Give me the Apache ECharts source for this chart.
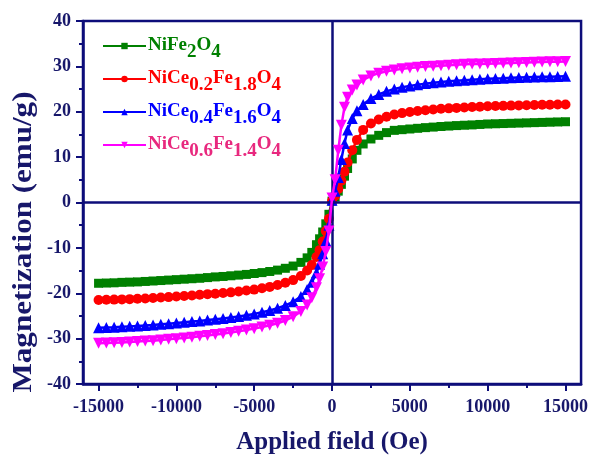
<!DOCTYPE html>
<html><head><meta charset="utf-8">
<script src="https://cdn.jsdelivr.net/npm/echarts@6/dist/echarts.min.js"></script>
<style>html,body{margin:0;padding:0;background:#fff}#c{width:591px;height:460px}</style>
</head><body><div id="c"></div>
<script>
// Applied field (Oe)
const field = [
  -15000,-14500,-14000,-13500,-13000,-12500,-12000,-11500,-11000,-10500,
  -10000,-9500,-9000,-8500,-8000,-7500,-7000,-6500,-6000,-5500,
  -5000,-4500,-4000,-3500,-3000,-2500,
  -2000,-1600,-1300,-1000,-800,-600,-400,-200,0,200,400,600,800,1000,1300,1600,2000,
  2500,3000,3500,4000,4500,5000,5500,6000,6500,7000,7500,8000,8500,9000,9500,10000,
  10500,11000,11500,12000,12500,13000,13500,14000,14500,15000
];
// Magnetization (emu/g)
const niFe2O4 = [
  -17.8,-17.75,-17.7,-17.6,-17.55,-17.5,-17.4,-17.3,-17.2,-17.1,
  -17.0,-16.9,-16.8,-16.7,-16.55,-16.4,-16.3,-16.15,-16.0,-15.85,
  -15.65,-15.45,-15.2,-14.9,-14.5,-14.0,
  -13.2,-12.2,-11.0,-9.3,-8.0,-6.5,-4.7,-2.6,0.3,1.2,2.5,4.0,5.8,7.5,9.6,11.5,12.9,
  14.0,14.8,15.4,15.9,16.05,16.2,16.35,16.5,16.62,16.75,16.85,16.95,17.03,17.1,17.2,17.3,
  17.35,17.4,17.45,17.5,17.55,17.6,17.65,17.7,17.75,17.8
];
const niCe02 = [
  -21.5,-21.45,-21.4,-21.35,-21.3,-21.2,-21.15,-21.05,-20.95,-20.85,
  -20.7,-20.6,-20.5,-20.35,-20.2,-20.1,-19.95,-19.8,-19.6,-19.4,
  -19.2,-18.9,-18.6,-18.2,-17.7,-17.1,
  -16.2,-15.0,-13.8,-12.0,-10.5,-8.6,-6.3,-3.6,0.3,1.5,3.0,4.8,6.8,8.8,11.5,13.8,16.0,
  17.4,18.3,18.9,19.4,19.7,19.95,20.15,20.35,20.5,20.65,20.75,20.85,20.95,21.05,21.1,21.2,
  21.25,21.3,21.35,21.4,21.45,21.5,21.55,21.55,21.6,21.6
];
const niCe04 = [
  -27.6,-27.55,-27.5,-27.4,-27.3,-27.2,-27.1,-27.0,-26.85,-26.7,
  -26.55,-26.4,-26.25,-26.1,-25.9,-25.75,-25.55,-25.35,-25.1,-24.85,
  -24.55,-24.2,-23.8,-23.3,-22.7,-21.9,
  -20.7,-19.2,-17.6,-15.5,-13.6,-11.3,-8.5,-5.0,0.5,2.5,5.5,9.5,13.0,16.0,18.5,20.2,21.6,
  22.9,23.8,24.5,25.0,25.4,25.7,25.95,26.2,26.4,26.55,26.7,26.85,26.95,27.05,27.15,27.25,
  27.35,27.4,27.5,27.55,27.6,27.65,27.7,27.72,27.76,27.8
];
const niCe06 = [
  -31.0,-30.95,-30.9,-30.85,-30.75,-30.65,-30.55,-30.45,-30.3,-30.15,
  -30.0,-29.85,-29.7,-29.5,-29.3,-29.1,-28.9,-28.65,-28.4,-28.1,
  -27.8,-27.45,-27.05,-26.6,-26.0,-25.2,
  -24.0,-22.6,-21.0,-18.8,-16.8,-14.2,-10.8,-6.3,1.0,5.0,11.5,17.0,21.0,23.2,24.8,25.9,27.0,
  27.9,28.5,28.9,29.2,29.45,29.65,29.8,29.95,30.05,30.15,30.25,30.35,30.45,30.5,30.55,30.6,
  30.65,30.7,30.75,30.8,30.85,30.9,30.95,31.0,31.0,31.05
];
const seriesNames = ['NiFe2O4','NiCe0.2Fe1.8O4','NiCe0.4Fe1.6O4','NiCe0.6Fe1.4O4'];
const legendLabels = {
  'NiFe2O4': '{m|NiFe}{s|2}{m|O}{s|4}',
  'NiCe0.2Fe1.8O4': '{m|NiCe}{s|0.2}{m|Fe}{s|1.8}{m|O}{s|4}',
  'NiCe0.4Fe1.6O4': '{m|NiCe}{s|0.4}{m|Fe}{s|1.6}{m|O}{s|4}',
  'NiCe0.6Fe1.4O4': '{m|NiCe}{s|0.6}{m|Fe}{s|1.4}{m|O}{s|4}'
};
const xMajorTicks = [-15000,-10000,-5000,0,5000,10000,15000];
const xMinorTicks = [-12500,-7500,-2500,2500,7500,12500];

const NAVY = '#0d0d7a';
const TEXT = '#17176a';
const FONT = '"Liberation Serif","Times New Roman",serif';
const colors = ['#008000','#ff0000','#0000ff','#ff00ff'];
const legendText = ['#008000','#ff0000','#0000ff','#e8287e'];
const symbols = ['rect','circle','triangle','triangle'];
const sizes = [9,10,11,11];
const rotates = [0,0,0,180];
const values = [niFe2O4, niCe02, niCe04, niCe06];

const series = seriesNames.map((n,k)=>({
  name:n, type:'line', showAllSymbol:true,
  data: field.map((h,i)=>[h, values[k][i]]),
  symbol: symbols[k], symbolRotate: rotates[k], symbolSize: sizes[k],
  itemStyle:{color:colors[k]}, lineStyle:{color:colors[k], width:2.5},
  z: 2 + k, animation:false
}));
series[3].markLine = {
  silent:true, symbol:['none','none'], label:{show:false}, animation:false,
  lineStyle:{color:NAVY, width:2.5, type:'solid'},
  data:[{xAxis:0},{yAxis:0}]
};

const chart = echarts.init(document.getElementById('c'));
chart.setOption({
  animation:false,
  backgroundColor:'#fff',
  grid:{left:83, right:8, top:21, bottom:71, show:true, borderColor:NAVY, borderWidth:2.5},
  legend:{
    orient:'vertical', left:97, top:31, itemWidth:43, itemHeight:8, itemGap:7,
    data: seriesNames.map((n,k)=>({name:n, textStyle:{color:legendText[k]}})),
    formatter: n => legendLabels[n],
    textStyle:{
      fontFamily:FONT, fontWeight:'bold', fontSize:19, padding:[0,0,0,-3],
      rich:{
        m:{fontFamily:FONT, fontWeight:'bold', fontSize:19, lineHeight:20, verticalAlign:'top'},
        s:{fontFamily:FONT, fontWeight:'bold', fontSize:19, lineHeight:20, verticalAlign:'top', padding:[7,0,0,0]}
      }
    }
  },
  xAxis:[{
    type:'value', min:-16000, max:16000, position:'bottom',
    axisLine:{show:true, onZero:false, lineStyle:{color:NAVY, width:2.5}},
    axisTick:{show:true, inside:false, length:7, customValues:xMajorTicks, lineStyle:{color:NAVY, width:2}},
    axisLabel:{customValues:xMajorTicks, formatter:v=>String(v), margin:14, color:TEXT, fontFamily:FONT, fontWeight:'bold', fontSize:18},
    splitLine:{show:false},
    name:'Applied field (Oe)', nameLocation:'middle', nameGap:46,
    nameTextStyle:{color:TEXT, fontFamily:FONT, fontWeight:'bold', fontSize:25}
  },{
    type:'value', min:-16000, max:16000, position:'bottom',
    axisLine:{show:false, onZero:false},
    axisTick:{show:true, inside:false, length:4, customValues:xMinorTicks, lineStyle:{color:NAVY, width:2}},
    axisLabel:{show:false}, splitLine:{show:false}
  }],
  yAxis:{
    type:'value', min:-40, max:40, interval:10,
    axisLine:{show:true, onZero:false, lineStyle:{color:NAVY, width:2.5}},
    axisTick:{show:true, inside:false, length:7, lineStyle:{color:NAVY, width:2}},
    minorTick:{show:true, splitNumber:2, length:4, lineStyle:{color:NAVY, width:2}},
    axisLabel:{margin:12, color:TEXT, fontFamily:FONT, fontWeight:'bold', fontSize:18},
    splitLine:{show:false}
  },
  graphic:[{
    type:'text', x:24, y:242, rotation:Math.PI/2, scaleX:1.15, scaleY:1,
    style:{text:'Magnetization (emu/g)', fill:TEXT, font:'bold 27px "Liberation Serif", serif',
      align:'center', verticalAlign:'middle', textAlign:'center', textVerticalAlign:'middle'}
  }],
  series: series
});
</script>
</body></html>
